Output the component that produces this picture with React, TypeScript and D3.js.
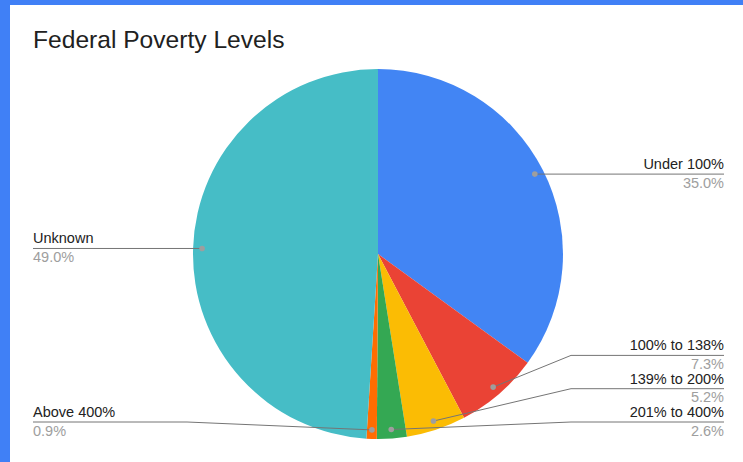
import React from "react";
import * as d3 from "d3";

const categories = ["Under 100%", "100% to 138%", "139% to 200%", "201% to 400%", "Above 400%", "Unknown"];
const values = [35.0, 7.3, 5.2, 2.6, 0.9, 49.0];
const percentLabels = ["35.0%", "7.3%", "5.2%", "2.6%", "0.9%", "49.0%"];
const colors = ["#4285F4", "#EA4335", "#FBBC04", "#34A853", "#FF6D01", "#46BDC6"];
const title = "Federal Poverty Levels";

const W = 743;
const H = 462;
const cx = 378;
const cy = 254;
const R = 185;
const dotR = 176;
const font = "Arial, 'Liberation Sans', sans-serif";

export default function App() {
  const pie = d3.pie<number>().sort(null).value((d) => d).startAngle(0).endAngle(2 * Math.PI);
  const arcs = pie(values);
  const arc = d3.arc<d3.PieArcDatum<number>>().innerRadius(0).outerRadius(R);

  const items = arcs.map((a, i) => {
    const mid = (a.startAngle + a.endAngle) / 2;
    const dx = cx + dotR * Math.sin(mid);
    const dy = cy - dotR * Math.cos(mid);
    return { i, mid, dx, dy, right: mid < Math.PI, lineY: dy };
  });

  const bottomLimit = 422;
  const spacing = 33.3;
  const place = (list: typeof items) => {
    const sorted = [...list].sort((a, b) => b.dy - a.dy);
    let limit = bottomLimit;
    sorted.forEach((it) => {
      it.lineY = Math.min(it.dy, limit);
      limit = it.lineY - spacing;
    });
  };
  place(items.filter((d) => d.right));
  place(items.filter((d) => !d.right));

  const rightX = 724;
  const leftX = 33;

  return (
    <svg width={W} height={H} style={{ position: "absolute", left: 0, top: 0, background: "#fff" }}>
      <rect x={0} y={0} width={W} height={H} fill="#fff" />
      <rect x={0} y={0} width={W} height={5} fill="#4080F6" />
      <rect x={0} y={0} width={10} height={H} fill="#4080F6" />
      <text x={33} y={48} fontFamily={font} fontSize={24.6} fill="#212121">{title}</text>
      <g>
        {arcs.map((a, i) => (
          <path key={i} d={arc(a) || ""} transform={`translate(${cx},${cy})`} fill={colors[i]} />
        ))}
      </g>
      <g>
        {items.map((it) => {
          const bendX = it.right ? cx + R + 8 : cx - R - 6;
          const endX = it.right ? rightX : leftX;
          const straight = Math.abs(it.lineY - it.dy) < 2;
          const pts = straight
            ? [[it.dx, it.lineY], [endX, it.lineY]]
            : [[it.dx, it.dy], [bendX, it.lineY], [endX, it.lineY]];
          const line = d3.line()(pts as [number, number][]) || "";
          const anchor = it.right ? "end" : "start";
          return (
            <g key={it.i}>
              <path d={line} fill="none" stroke="#757575" strokeWidth={1} />
              <circle cx={it.dx} cy={straight ? it.lineY : it.dy} r={2.8} fill="#9E9E9E" />
              <text x={endX} y={it.lineY - 5} textAnchor={anchor} fontFamily={font} fontSize={14.5} fill="#222">
                {categories[it.i]}
              </text>
              <text x={endX} y={it.lineY + 13.5} textAnchor={anchor} fontFamily={font} fontSize={14.5} fill="#9E9E9E">
                {percentLabels[it.i]}
              </text>
            </g>
          );
        })}
      </g>
    </svg>
  );
}
